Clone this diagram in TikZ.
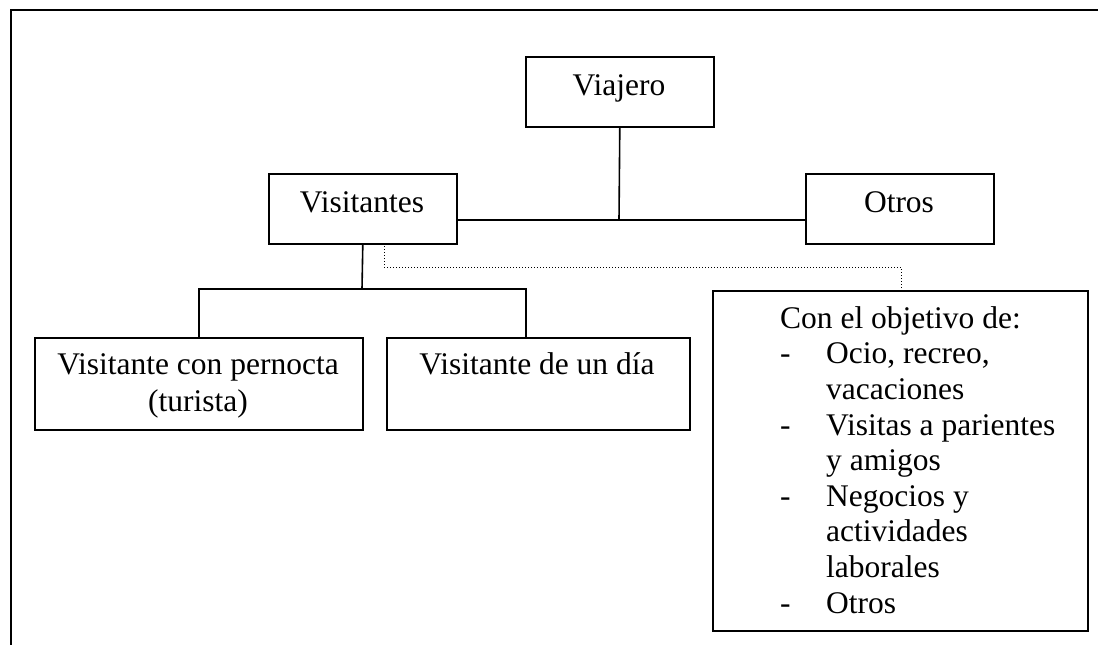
\documentclass[tikz,border=0pt]{standalone}
\usepackage{fontspec}
\setmainfont{Liberation Serif}
\begin{document}
\begin{tikzpicture}[x=1pt,y=-1pt,
  box/.style={draw, line width=1.6pt, inner sep=0pt, anchor=north west},
  lbl/.style={anchor=base, inner sep=0pt, font=\fontsize{31.5}{35.6}\selectfont},
  conn/.style={line width=1.6pt},
  dotconn/.style={line width=1pt, dash pattern=on 1pt off 2pt}]
\useasboundingbox (0,0) rectangle (1098,645);
% outer frame
\draw[line width=2pt] (10.5,645) -- (10.5,10) -- (1098,10);
% boxes
\node[box, minimum width=188pt, minimum height=70pt] (via) at (525,56) {};
\node[box, minimum width=188pt, minimum height=70pt] (vis) at (268,173) {};
\node[box, minimum width=188pt, minimum height=70pt] (otr) at (805,173) {};
\node[box, minimum width=328pt, minimum height=92pt] (per) at (34,337) {};
\node[box, minimum width=303pt, minimum height=92pt] (dia) at (386,337) {};
\node[box, minimum width=375pt, minimum height=340pt] (obj) at (712,290) {};
% labels
\node[lbl] (tvia) at (619,95) {Viajero};
\node[lbl] (tvis) at (362,212) {Visitantes};
\node[lbl] (totr) at (899,212) {Otros};
\node[lbl] (tper1) at (198,374) {Visitante con pernocta};
\node[lbl] (tper2) at (198,411) {(turista)};
\node[lbl] (tdia) at (537,374) {Visitante de un día};
\node[anchor=base west, inner sep=0pt, font=\fontsize{31.5}{35.6}\selectfont] (tobj) at (780,328.3) {%
  \begin{tabular}[t]{@{}l@{}l@{}}
  \multicolumn{2}{@{}l@{}}{Con el objetivo de:}\\
  \makebox[46pt][l]{-} & Ocio, recreo,\\
   & vacaciones\\
  \makebox[46pt][l]{-} & Visitas a parientes\\
   & y amigos\\
  \makebox[46pt][l]{-} & Negocios y\\
   & actividades\\
   & laborales\\
  \makebox[46pt][l]{-} & Otros
  \end{tabular}};
% connectors
\coordinate (j1) at (619,220);
\draw[conn] (via.south) -- (j1);
\draw[conn] (vis.east |- j1) -- (otr.west |- j1);
\coordinate (j2) at (362,289);
\coordinate (d) at (526,337);
\draw[conn] (vis.south) -- (j2);
\draw[conn] (per.north) |- (d |- j2) -- (d);
% dotted connector
\coordinate (dv) at (384,243);
\coordinate (dob) at (901,290);
\coordinate (dh) at (901,267);
\draw[dotconn] (dv) |- (dh) -- (dob);
\end{tikzpicture}
\end{document}
